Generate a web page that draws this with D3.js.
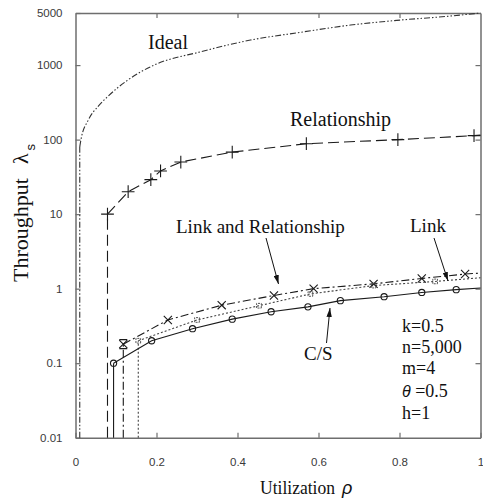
<!DOCTYPE html>
<html>
<head>
<meta charset="utf-8">
<script src="https://cdn.jsdelivr.net/npm/d3@7"></script>
<style>
  body { margin: 0; background: #fff; }
  svg { display: block; }
</style>
</head>
<body>
<svg id="chart" width="483" height="501"></svg>
<script>
// ---- axis ticks ----
const xTicks = [0, 0.2, 0.4, 0.6, 0.8, 1];
const xTickLabels = ["0", "0.2", "0.4", "0.6", "0.8", "1"];
const yTicks = [0.01, 0.1, 1, 10, 100, 1000, 5000];
const yTickLabels = ["0.01", "0.1", "1", "10", "100", "1000", "5000"];

// ---- series: utilization (rho) and throughput ----
// Ideal (no markers)
const idealRho = [0.0105, 0.0135, 0.0315, 0.055, 0.079, 0.129, 0.194, 0.309, 0.432, 0.555, 0.679, 0.802, 0.925, 1.0];
const idealVal = [80, 100, 183, 276, 376, 629, 1000, 1508, 2166, 2750, 3444, 4020, 4547, 5000];

// Relationship
const relRho = [0.079, 0.13, 0.186, 0.21, 0.26, 0.387, 0.57, 0.796, 0.984];
const relVal = [10, 20, 29, 38, 50, 68, 88, 100, 113];
const relEndVal = 115;

// Link and Relationship
const lrRho = [0.118, 0.228, 0.361, 0.49, 0.588, 0.736, 0.855, 0.962];
const lrVal = [0.18, 0.38, 0.6, 0.81, 1.0, 1.16, 1.37, 1.57];
const lrEndVal = 1.62;

// Link
const linkRho = [0.155, 0.3, 0.453, 0.58, 0.736, 0.888];
const linkVal = [0.2, 0.38, 0.59, 0.85, 1.1, 1.25];
const linkEndVal = 1.4;

// C/S
const csRho = [0.094, 0.188, 0.289, 0.387, 0.483, 0.574, 0.654, 0.762, 0.855, 0.94];
const csVal = [0.1, 0.2, 0.29, 0.39, 0.49, 0.57, 0.69, 0.78, 0.89, 0.97];
const csEndVal = 1.02;

// parameters listed in the corner
const paramLines = ["k=0.5", "n=5,000", "m=4", "=0.5", "h=1"];

// ---- layout ----
const frame = { left: 75.5, right: 480.5, top: 13, bottom: 437.7 };
const svg = d3.select("#chart");

const x = d3.scaleLinear().domain([0, 1]).range([frame.left, frame.right]);
const y = d3.scaleLog().domain([0.01, 5000]).range([frame.bottom, frame.top]);

const AXIS = "#6e6e6e";
const INK = "#1a1a1a";
const SANS = "'Liberation Sans', Arial, sans-serif";
const SERIF = "'Liberation Serif', 'Times New Roman', serif";

// ---- frame and ticks ----
function styleAxis(g) {
  g.select(".domain").attr("stroke", AXIS).attr("stroke-width", 1.5);
  g.selectAll(".tick line").attr("stroke", AXIS).attr("stroke-width", 1.2);
  g.selectAll(".tick text").attr("fill", "#3a3a3a")
    .style("font-family", SANS).style("font-size", "11.5px");
}

svg.append("g")
  .attr("transform", `translate(0,${frame.bottom})`)
  .call(d3.axisBottom(x).tickValues(xTicks).tickFormat((d, i) => xTickLabels[i])
    .tickSizeInner(-5).tickSizeOuter(0).tickPadding(20))
  .call(styleAxis);

svg.append("g")
  .attr("transform", `translate(${frame.left},0)`)
  .call(d3.axisLeft(y).tickValues(yTicks).tickFormat((d, i) => yTickLabels[i])
    .tickSizeInner(-5).tickSizeOuter(0).tickPadding(13))
  .call(styleAxis);

svg.append("g")
  .attr("transform", `translate(0,${frame.top})`)
  .call(d3.axisTop(x).tickValues(xTicks.slice(1, -1)).tickFormat("")
    .tickSizeInner(-5).tickSizeOuter(0))
  .call(styleAxis);

svg.append("g")
  .attr("transform", `translate(${frame.right},0)`)
  .call(d3.axisRight(y).tickValues(yTicks.slice(1, -1)).tickFormat("")
    .tickSizeInner(-5).tickSizeOuter(0))
  .call(styleAxis);

// ---- series lines ----
const zip = (a, b) => a.map((v, i) => [v, b[i]]);
const line = d3.line().x(d => x(d[0])).y(d => y(d[1]));
const smooth = d3.line().x(d => x(d[0])).y(d => y(d[1])).curve(d3.curveMonotoneX);

const series = [
  { name: "ideal", rho: idealRho, val: idealVal, end: null, dash: "6,2,1.5,2,1.5,2", width: 1.1, color: "#333", gen: smooth },
  { name: "rel", rho: relRho, val: relVal, end: relEndVal, dash: "11,5", width: 1.1, color: INK, gen: line },
  { name: "lr", rho: lrRho, val: lrVal, end: lrEndVal, dash: "8,3,2,3", width: 1.1, color: INK, gen: line },
  { name: "link", rho: linkRho, val: linkVal, end: linkEndVal, dash: "2,2", width: 1.1, color: "#444", gen: line },
  { name: "cs", rho: csRho, val: csVal, end: csEndVal, dash: null, width: 1.1, color: INK, gen: line }
];

const plot = svg.append("g");
series.forEach(s => {
  const pts = zip(s.rho, s.val);
  if (s.end !== null) pts.push([1, s.end]);
  // vertical drop from the bottom of the axis to the first point
  plot.append("line")
    .attr("x1", x(s.rho[0])).attr("x2", x(s.rho[0]))
    .attr("y1", y(0.01)).attr("y2", y(s.val[0]))
    .attr("stroke", s.color).attr("stroke-width", s.width)
    .attr("stroke-dasharray", s.dash);
  plot.append("path")
    .attr("d", s.gen(pts))
    .attr("fill", "none")
    .attr("stroke", s.color).attr("stroke-width", s.width)
    .attr("stroke-dasharray", s.dash);
});

// ---- markers ----
const sym = (type, size) => d3.symbol().type(type).size(size);

plot.selectAll(".m-rel").data(zip(relRho, relVal)).join("path")
  .attr("transform", d => `translate(${x(d[0])},${y(d[1])})`)
  .attr("d", sym(d3.symbolPlus, 55)).attr("fill", "none")
  .attr("stroke", INK).attr("stroke-width", 1.1);

plot.selectAll(".m-lr").data(zip(lrRho, lrVal)).join("path")
  .attr("transform", d => `translate(${x(d[0])},${y(d[1])})`)
  .attr("d", (d, i) => {
    const p = sym(d3.symbolTimes, 45)();
    // the first point carries caps above and below
    return i === 0 ? p + "M-4,-4.5L4,-4.5M-4,4.5L4,4.5" : p;
  })
  .attr("fill", "none").attr("stroke", INK).attr("stroke-width", 1.1);

plot.selectAll(".m-link").data(zip(linkRho, linkVal)).join("path")
  .attr("transform", d => `translate(${x(d[0])},${y(d[1])})`)
  .attr("d", sym(d3.symbolSquare2, 28)).attr("fill", "none")
  .attr("stroke", "#555").attr("stroke-width", 1).attr("stroke-dasharray", "2,1");

plot.selectAll(".m-cs").data(zip(csRho, csVal)).join("path")
  .attr("transform", d => `translate(${x(d[0])},${y(d[1])})`)
  .attr("d", sym(d3.symbolCircle, 30)).attr("fill", "none")
  .attr("stroke", INK).attr("stroke-width", 1.1);

// ---- annotations ----
const notes = svg.append("g").attr("fill", "#111").style("font-family", SERIF);

notes.append("text").attr("x", 148).attr("y", 49).style("font-size", "20px").text("Ideal");
notes.append("text").attr("x", 290).attr("y", 126).style("font-size", "20px").text("Relationship");
notes.append("text").attr("x", 176).attr("y", 233).style("font-size", "19px").text("Link and Relationship");
notes.append("text").attr("x", 410).attr("y", 232).style("font-size", "19px").text("Link");
notes.append("text").attr("x", 304).attr("y", 360).style("font-size", "19px").text("C/S");

const paramY = [332, 353, 374, 397, 419];
paramLines.forEach((t, i) => {
  const tx = notes.append("text").attr("x", 402).attr("y", paramY[i]).style("font-size", "18px");
  if (i === 3) {
    tx.append("tspan").style("font-style", "italic").style("font-family", SANS).style("font-size", "16px").text("\u03B8");
    tx.append("tspan").text(" " + t);
  } else {
    tx.text(t);
  }
});

// arrows
const defs = svg.append("defs");
defs.append("marker").attr("id", "head")
  .attr("viewBox", "0 0 10 6").attr("refX", 10).attr("refY", 3)
  .attr("markerWidth", 9).attr("markerHeight", 5.4)
  .attr("markerUnits", "userSpaceOnUse").attr("orient", "auto")
  .append("path").attr("d", "M0,0L10,3L0,6Z").attr("fill", "#111");

const arrows = [
  [266, 238, 278.5, 284],
  [434, 238, 448, 281],
  [326.5, 343, 330, 308]
];
svg.append("g").selectAll("line").data(arrows).join("line")
  .attr("x1", d => d[0]).attr("y1", d => d[1])
  .attr("x2", d => d[2]).attr("y2", d => d[3])
  .attr("stroke", "#111").attr("stroke-width", 1)
  .attr("marker-end", "url(#head)");

// ---- axis titles ----
svg.append("text")
  .attr("x", 260).attr("y", 494)
  .attr("textLength", 75).attr("lengthAdjust", "spacingAndGlyphs")
  .style("font-family", SERIF).style("font-size", "19px").attr("fill", "#111")
  .text("Utilization");
svg.append("text")
  .attr("x", 342).attr("y", 494)
  .style("font-family", SANS).style("font-style", "italic").style("font-size", "18px").attr("fill", "#111")
  .text("\u03C1");

const yt = svg.append("text")
  .attr("transform", "translate(28,282) rotate(-90)")
  .style("font-family", SERIF).style("font-size", "22px").attr("fill", "#111");
yt.append("tspan").text("Throughput");
yt.append("tspan").attr("dx", 14).text("\u03BB");
yt.append("tspan").attr("dx", 3).attr("dy", 7).style("font-size", "13px").style("font-family", SANS).text("s");
</script>
</body>
</html>
